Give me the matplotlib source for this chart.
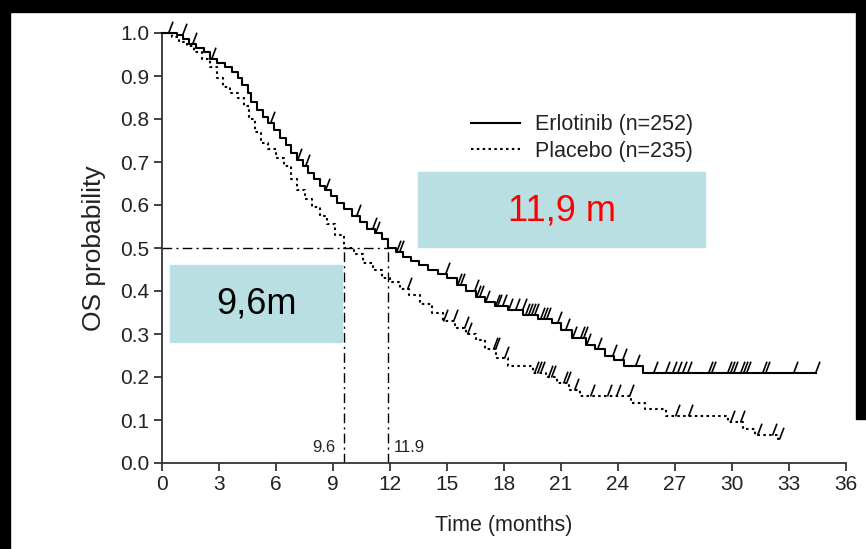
import numpy as np
import matplotlib
matplotlib.use("Agg")
import matplotlib.pyplot as plt
from matplotlib.path import Path
from matplotlib.patches import Rectangle
from matplotlib.lines import Line2D

plt.rcParams['font.family'] = ['Liberation Sans', 'DejaVu Sans']

# Kaplan-Meier steps (time in months, survival)
erl_t = [0, 0.8, 1.1, 1.4, 1.8, 2.2, 2.5, 2.9, 3.3, 3.7, 4.0, 4.2, 4.5, 4.7, 5.0,
         5.3, 5.6, 5.9, 6.2, 6.5, 6.8, 7.1, 7.4, 7.7, 8.0, 8.3, 8.6, 8.9, 9.2, 9.6,
         10.0, 10.4, 10.8, 11.2, 11.6, 11.9, 12.3, 12.7, 13.1, 13.5, 14.0, 14.5,
         15.0, 15.5, 16.0, 16.5, 17.0, 17.5, 18.2, 19.0, 19.8, 20.5, 21.0, 21.6,
         22.3, 22.8, 23.3, 23.8, 24.3, 25.3, 34.4]
erl_s = [1.0, 0.995, 0.985, 0.975, 0.965, 0.955, 0.94, 0.93, 0.92, 0.91, 0.895,
         0.88, 0.86, 0.84, 0.82, 0.805, 0.79, 0.775, 0.755, 0.74, 0.72, 0.705,
         0.69, 0.675, 0.66, 0.645, 0.635, 0.62, 0.605, 0.59, 0.575, 0.56, 0.545,
         0.535, 0.52, 0.50, 0.49, 0.48, 0.47, 0.46, 0.45, 0.44, 0.43, 0.415, 0.40,
         0.385, 0.375, 0.365, 0.355, 0.345, 0.335, 0.325, 0.31, 0.29, 0.275,
         0.265, 0.25, 0.24, 0.225, 0.21, 0.21]
erl_cens = [0.3, 1.05, 1.6, 2.6, 5.7, 7.1, 7.5, 8.6, 10.2, 11.05, 11.2, 12.3,
            12.45, 14.9, 15.5, 15.7, 16.4, 16.55, 16.7, 17.0, 17.5, 17.65, 17.9,
            18.2, 18.6, 18.95, 19.1, 19.25, 19.4, 19.6, 19.9, 20.05, 20.2, 20.8,
            21.2, 21.6, 22.0, 22.15, 22.3, 22.9, 23.7, 24.2, 24.9, 25.84, 26.47,
            26.84, 27.1, 27.37, 27.63, 28.74, 28.9, 29.74, 29.9, 30.05, 30.42,
            30.58, 30.74, 31.58, 31.74, 33.2, 34.37]

pla_t = [0, 0.5, 0.9, 1.3, 1.7, 2.1, 2.5, 2.9, 3.2, 3.6, 4.0, 4.3, 4.6, 4.9, 5.2,
         5.6, 6.0, 6.4, 6.8, 7.1, 7.5, 7.9, 8.3, 8.7, 9.1, 9.6, 10.1, 10.6, 11.1,
         11.6, 12.0, 12.5, 13.0, 13.6, 14.2, 14.8, 15.4, 16.0, 16.5, 17.0, 17.6,
         18.2, 19.5, 20.2, 20.8, 21.4, 22.0, 24.7, 25.4, 26.5, 29.8, 30.6, 31.2,
         32.4, 32.5]
pla_s = [1.0, 0.99, 0.98, 0.97, 0.955, 0.94, 0.92, 0.895, 0.875, 0.86, 0.85,
         0.83, 0.80, 0.77, 0.745, 0.73, 0.71, 0.69, 0.66, 0.635, 0.615, 0.595,
         0.575, 0.555, 0.53, 0.50, 0.485, 0.465, 0.45, 0.43, 0.42, 0.405, 0.39,
         0.37, 0.35, 0.33, 0.315, 0.30, 0.285, 0.265, 0.245, 0.225, 0.21, 0.20,
         0.185, 0.17, 0.155, 0.14, 0.125, 0.11, 0.095, 0.08, 0.065, 0.055, 0.055]
pla_cens = [12.9, 14.8, 15.3, 15.9, 16.05, 17.4, 17.55, 18.0, 19.6, 19.75, 19.9,
            20.3, 20.45, 21.1, 21.25, 21.7, 22.5, 23.4, 23.9, 24.6, 27.0, 27.7,
            29.9, 30.4, 31.3, 32.1, 32.45]

median_erl = 11.9
median_pla = 9.6
x_ticks = list(range(0, 37, 3))
y_ticks = [round(v * 0.1, 1) for v in range(11)]


def surv_at(times, surv, t):
    idx = np.searchsorted(times, t, side='right') - 1
    return np.asarray(surv)[idx]


fig = plt.figure(figsize=(8.66, 5.49), dpi=100)
ax = fig.add_axes([162 / 866, 86 / 549, 684 / 866, 430 / 549])

dotted = (0, (1.2, 1.6))
ax.plot(erl_t, erl_s, drawstyle='steps-post', color='black', lw=1.5,
        clip_on=False, zorder=3)
ax.plot(pla_t, pla_s, drawstyle='steps-post', color='black', lw=1.5,
        ls=dotted, clip_on=False, zorder=3)

# censor marks: slanted ticks standing on the curve
tick = Path([(0, 0), (0.38, 1)], [Path.MOVETO, Path.LINETO])
ax.plot(erl_cens, surv_at(erl_t, erl_s, erl_cens), ls='none', marker=tick,
        ms=17, mew=1.2, color='black', clip_on=False, zorder=4)
ax.plot(pla_cens, surv_at(pla_t, pla_s, pla_cens), ls='none', marker=tick,
        ms=17, mew=1.2, color='black', clip_on=False, zorder=4)

# median guide lines
dd = (0, (7, 3, 1.5, 3))
ax.plot([0, median_erl], [0.5, 0.5], color='black', lw=1, ls=dd)
ax.plot([median_pla, median_pla], [0, 0.5], color='black', lw=1, ls=dd)
ax.plot([median_erl, median_erl], [0, 0.5], color='black', lw=1, ls=dd)
ax.text(median_pla - 0.45, 0.035, '9.6', ha='right', va='center', fontsize=12,
        color='#222222')
ax.text(median_erl + 0.3, 0.035, '11.9', ha='left', va='center', fontsize=12,
        color='#222222')

ax.set_xlim(0, 36)
ax.set_ylim(0, 1.0)
ax.set_xticks(x_ticks)
ax.set_yticks(y_ticks)
ax.set_yticklabels([f'{v:.1f}' for v in y_ticks])
for side in ('top', 'right'):
    ax.spines[side].set_visible(False)
for side in ('left', 'bottom'):
    ax.spines[side].set_linewidth(1.3)
    ax.spines[side].set_color('#333333')
ax.tick_params(direction='out', length=6, width=1.3, color='#333333',
               labelsize=15, labelcolor='#222222', pad=3)
ax.set_xlabel('Time (months)', fontsize=15.5, color='#222222', labelpad=15)
ax.set_ylabel('OS probability', fontsize=19, color='#222222', labelpad=10)

handles = [Line2D([], [], color='black', lw=1.5),
           Line2D([], [], color='black', lw=1.5, ls=dotted)]
fig.legend(handles, ['Erlotinib (n=252)', 'Placebo (n=235)'], frameon=False,
           loc='upper left', bbox_to_anchor=(452 / 866, 1 - 95 / 549),
           fontsize=15.5, handlelength=2.25, handletextpad=0.7, labelspacing=0.25,
           labelcolor='#222222')

# highlighted median boxes
box_col = '#b9dfe2'
fig.patches.append(Rectangle((418 / 866, 1 - 247 / 549), 287 / 866, 75 / 549,
                             transform=fig.transFigure, color=box_col, zorder=5))
fig.text(562 / 866, 1 - 211 / 549, '11,9 m', color='#ff0000', fontsize=26,
         ha='center', va='center', zorder=6)
fig.patches.append(Rectangle((170 / 866, 1 - 342 / 549), 172 / 866, 77 / 549,
                             transform=fig.transFigure, color=box_col, zorder=5))
fig.text(256 / 866, 1 - 304 / 549, '9,6m', color='black', fontsize=26,
         ha='center', va='center', zorder=6)

# black screen edges
for (x0, y0, w, h) in [(0, 537, 866, 12), (0, 0, 10, 549), (856, 130, 10, 419)]:
    fig.patches.append(Rectangle((x0 / 866, y0 / 549), w / 866, h / 549,
                                 transform=fig.transFigure, color='black',
                                 zorder=10))

fig.savefig('out.png', dpi=100)
